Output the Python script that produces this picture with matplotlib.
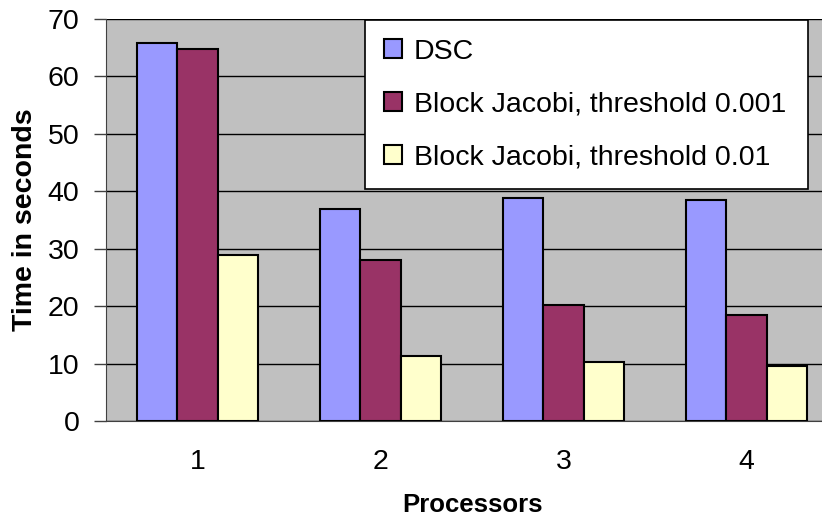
import matplotlib.pyplot as plt
import numpy as np

plt.rcParams['font.family'] = ['Liberation Sans', 'DejaVu Sans']

# Data
processors = ["1", "2", "3", "4"]
dsc = [65.8, 37.0, 38.8, 38.4]
bj_0001 = [64.7, 28.0, 20.2, 18.5]
bj_001 = [28.9, 11.4, 10.3, 9.6]
labels = ["DSC", "Block Jacobi, threshold 0.001", "Block Jacobi, threshold 0.01"]
colors = ["#9999FF", "#993366", "#FFFFCC"]

fig = plt.figure(figsize=(8.22, 5.19), dpi=100)
# axes run past the right edge of the figure, as in the original
ax = fig.add_axes([106 / 822, 98 / 519, 732 / 822, 402 / 519])
ax.set_facecolor("#C0C0C0")

x = np.arange(len(processors))
w = 0.222
for i, (vals, lab, col) in enumerate(zip([dsc, bj_0001, bj_001], labels, colors)):
    ax.bar(x + (i - 1) * w, vals, width=w, color=col, edgecolor="black",
           linewidth=1.5, label=lab, zorder=3)

ax.set_xlim(-0.5, 3.5)
ax.set_ylim(0, 70)
ax.set_yticks(range(0, 71, 10))
ax.set_xticks(x)
ax.set_xticklabels(processors)
ax.yaxis.grid(True, color="black", linewidth=1, zorder=0)
ax.set_axisbelow(True)

ax.tick_params(axis="y", direction="out", length=9, width=1, color="#404040",
               labelsize=20.5, pad=10)
ax.tick_params(axis="x", length=0, labelsize=20.5, pad=20)

for s in ["top", "right"]:
    ax.spines[s].set_visible(False)
ax.spines["left"].set_color("#404040")
ax.spines["bottom"].set_color("#404040")

ax.set_ylabel("Time in seconds", fontsize=20.5, fontweight="bold", labelpad=7)
ax.set_xlabel("Processors", fontsize=18.5, fontweight="bold", labelpad=13)

leg = ax.legend(loc="upper left", bbox_to_anchor=(0.354, 0.9975, 0.605, 0),
                mode="expand", fontsize=20.5, frameon=True, fancybox=False,
                framealpha=1, edgecolor="black", handlelength=0.65,
                handleheight=0.65, handletextpad=0.4, labelspacing=0.95,
                borderpad=0.65, borderaxespad=0)
leg.get_frame().set_linewidth(1.2)

plt.savefig("out.png", dpi=100)
